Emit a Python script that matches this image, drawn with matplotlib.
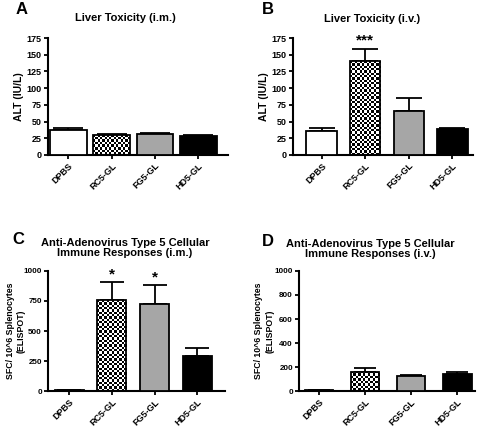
import numpy as np
import matplotlib
matplotlib.use('Agg')
import matplotlib.pyplot as plt

plt.rcParams['font.family'] = ['Liberation Sans', 'DejaVu Sans']
plt.rcParams['font.weight'] = 'bold'

groups = ['DPBS', 'RC5-GL', 'FG5-GL', 'HD5-GL']

alt_im = [38, 30, 32, 29]
alt_im_err = [2, 1, 1, 1]
alt_iv = [36, 140, 66, 39]
alt_iv_err = [4, 19, 20, 2]
sfc_im = [10, 755, 725, 295]
sfc_im_err = [3, 150, 155, 65]
sfc_iv = [10, 160, 125, 140]
sfc_iv_err = [3, 30, 10, 22]

stars_b = ['', '***', '', '']
stars_c = ['', '*', '*', '']

fills = ['white', 'check', '#a6a6a6', 'black']


def checker(ax, bar):
    # small black/white checkerboard clipped to the bar
    x0, y0 = bar.get_x(), bar.get_y()
    w, h = bar.get_width(), bar.get_height()
    bb = ax.get_window_extent()
    px_w = w / (ax.get_xlim()[1] - ax.get_xlim()[0]) * bb.width
    px_h = h / ax.get_ylim()[1] * bb.height
    nx = max(int(px_w / 2.3), 2)
    ny = max(int(px_h / 2.3), 2)
    img = (np.indices((ny, nx)).sum(axis=0) % 2).astype(float)
    im = ax.imshow(img, cmap='gray', extent=(x0, x0 + w, y0, y0 + h),
                   aspect='auto', interpolation='nearest', zorder=2)
    im.set_clip_path(bar)


def panel(ax, vals, errs, width, xlim, ylim, yticks, ylabel, ysize, tsize,
          stars=None):
    x = np.arange(len(groups))
    ax.set_xlim(*xlim)
    ax.set_ylim(0, ylim)
    bars = ax.bar(x, vals, width=width, edgecolor='black', linewidth=1.3,
                  zorder=3)
    for b, f in zip(bars, fills):
        if f == 'check':
            b.set_facecolor('none')
            checker(ax, b)
        else:
            b.set_facecolor(f)
    ax.errorbar(x, vals, yerr=[np.zeros(len(vals)), errs], fmt='none',
                ecolor='black', elinewidth=1.3, capsize=width * 13,
                capthick=1.3, zorder=1)
    if stars:
        for xi, v, e, s in zip(x, vals, errs, stars):
            if s:
                ax.text(xi, v + e + ylim * 0.01, s, ha='center', va='bottom',
                        fontsize=11, fontweight='bold')
    ax.set_yticks(yticks)
    ax.set_xticks(x)
    ax.set_xticklabels(groups, rotation=45, ha='right', rotation_mode='anchor',
                       fontsize=6.5, fontweight='bold')
    for t in ax.get_yticklabels():
        t.set_fontsize(tsize)
        t.set_fontweight('bold')
    ax.tick_params(axis='both', width=1.3, length=3, pad=1.5)
    ax.spines['top'].set_visible(False)
    ax.spines['right'].set_visible(False)
    ax.spines['left'].set_linewidth(1.5)
    ax.spines['bottom'].set_linewidth(1.5)
    ax.set_ylabel(ylabel, fontsize=ysize, fontweight='bold', labelpad=2,
                  linespacing=1.3)


fig = plt.figure(figsize=(4.81, 4.28), dpi=100)

axA = fig.add_axes([0.100, 0.638, 0.374, 0.273])
axB = fig.add_axes([0.609, 0.638, 0.374, 0.273])
axC = fig.add_axes([0.100, 0.086, 0.368, 0.281])
axD = fig.add_axes([0.622, 0.086, 0.366, 0.281])

panel(axA, alt_im, alt_im_err, 0.85, (-0.46, 3.68), 175,
      [0, 25, 50, 75, 100, 125, 150, 175], 'ALT (IU/L)', 7.5, 6.5)
panel(axB, alt_iv, alt_iv_err, 0.7, (-0.66, 3.47), 175,
      [0, 25, 50, 75, 100, 125, 150, 175], 'ALT (IU/L)', 7.5, 6.5, stars_b)
panel(axC, sfc_im, sfc_im_err, 0.68, (-0.49, 3.65), 1000,
      [0, 250, 500, 750, 1000], 'SFC/ 10^6 Splenocytes\n(ELISPOT)', 6.3,
      5.8, stars_c)
panel(axD, sfc_iv, sfc_iv_err, 0.62, (-0.43, 3.39), 1000,
      [0, 200, 400, 600, 800, 1000], 'SFC/ 10^6 Splenocytes\n(ELISPOT)', 6.3,
      5.8)

axC.yaxis.set_label_coords(-0.125, 0.5)
axD.yaxis.set_label_coords(-0.142, 0.5)

fig.text(22 / 481, 1 - 10 / 428, 'A', fontsize=12, fontweight='bold',
         ha='center', va='center')
fig.text(268 / 481, 1 - 10 / 428, 'B', fontsize=12, fontweight='bold',
         ha='center', va='center')
fig.text(18 / 481, 1 - 240 / 428, 'C', fontsize=12, fontweight='bold',
         ha='center', va='center')
fig.text(268 / 481, 1 - 242 / 428, 'D', fontsize=12, fontweight='bold',
         ha='center', va='center')

fig.text(125 / 481, 1 - 18 / 428, 'Liver Toxicity (i.m.)', fontsize=8,
         fontweight='bold', ha='center', va='center')
fig.text(372 / 481, 1 - 19 / 428, 'Liver Toxicity (i.v.)', fontsize=8,
         fontweight='bold', ha='center', va='center')
fig.text(125 / 481, 1 - 248 / 428,
         'Anti-Adenovirus Type 5 Cellular\nImmune Responses (i.m.)',
         fontsize=8, fontweight='bold', ha='center', va='center',
         linespacing=1.1)
fig.text(370 / 481, 1 - 249 / 428,
         'Anti-Adenovirus Type 5 Cellular\nImmune Responses (i.v.)',
         fontsize=8, fontweight='bold', ha='center', va='center',
         linespacing=1.1)

fig.savefig('out.png', dpi=100)
